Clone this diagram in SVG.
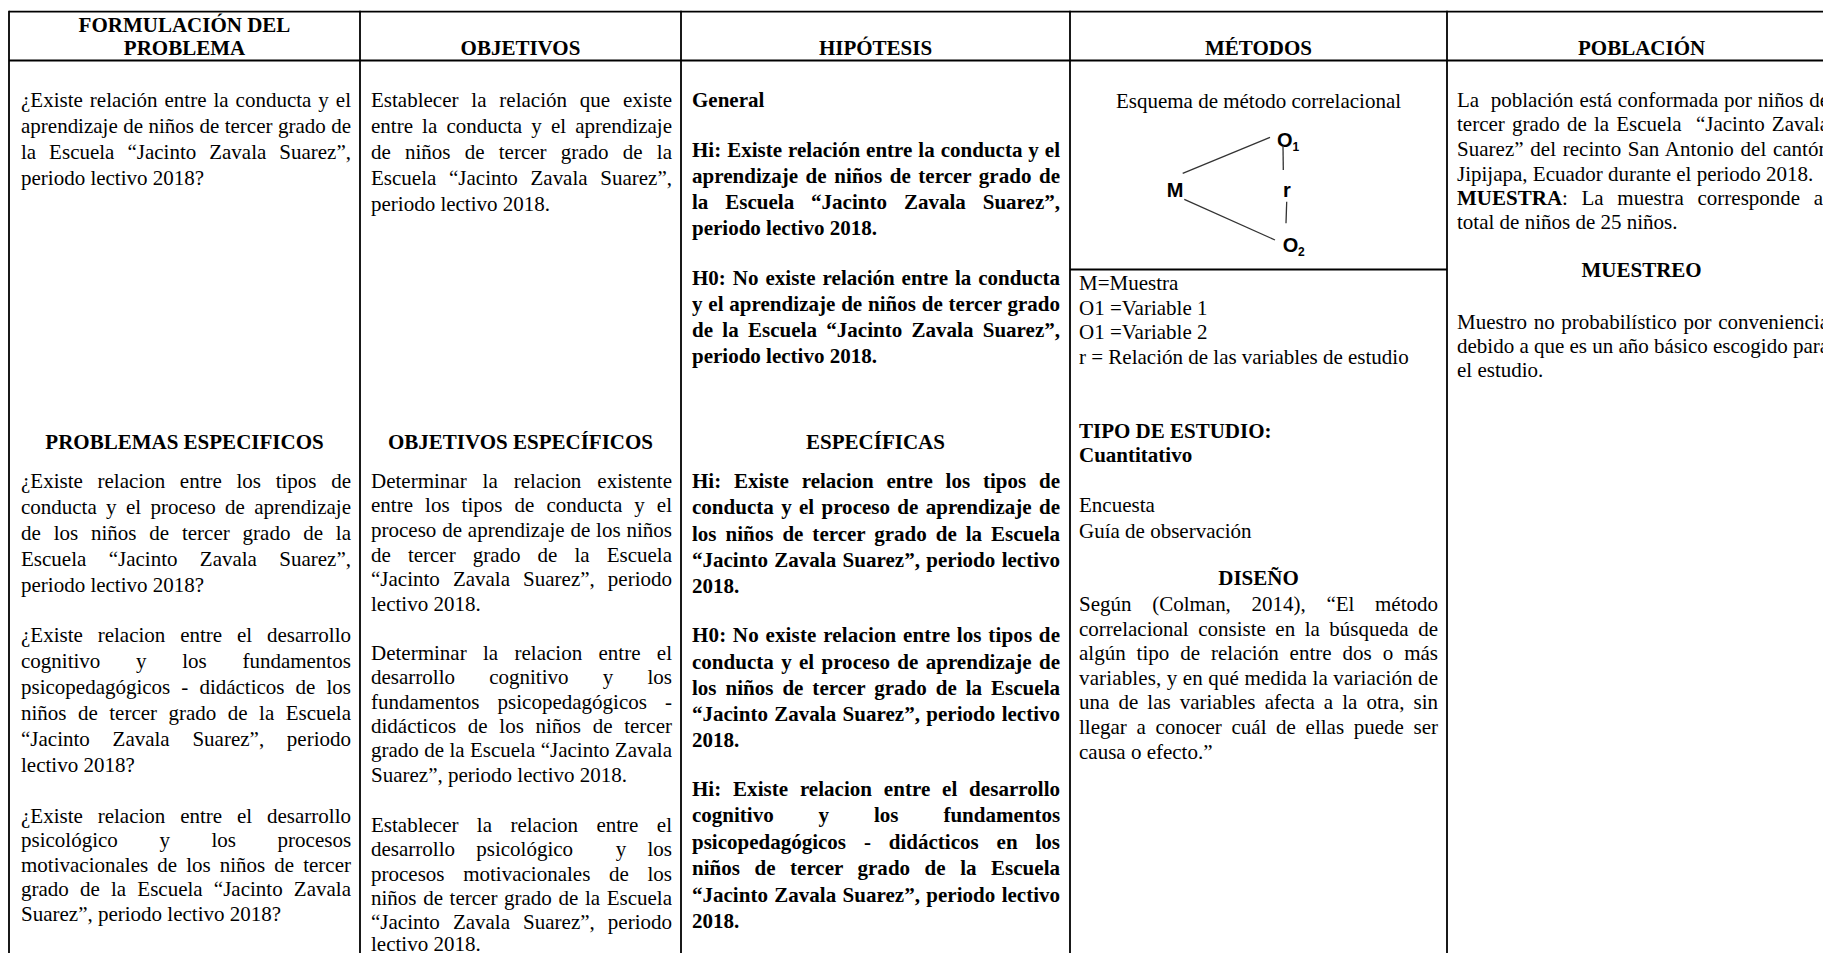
<svg xmlns="http://www.w3.org/2000/svg" width="1823" height="953" viewBox="0 0 1823 953">
<style>
.t{font-family:"Liberation Serif","Times New Roman",serif;font-size:21px;fill:#000}
.b{font-weight:bold}
.c{text-anchor:middle}
.s{font-family:"Liberation Sans",Arial,sans-serif;font-weight:bold;font-size:20px;fill:#000}
.sub{font-family:"Liberation Sans",Arial,sans-serif;font-weight:bold;font-size:12px;fill:#000}
.grid line{stroke:#000;stroke-width:1.8}
.conn line{stroke:#333;stroke-width:1.3}
</style>
<rect width="1823" height="953" fill="#fff"/>
<g id="grid" class="grid">
<line x1="9" y1="11.6" x2="1823" y2="11.6"/>
<line x1="9" y1="60.5" x2="1823" y2="60.5"/>
<line x1="9" y1="10.7" x2="9" y2="953"/>
<line x1="360" y1="10.7" x2="360" y2="953"/>
<line x1="681" y1="10.7" x2="681" y2="953"/>
<line x1="1070" y1="10.7" x2="1070" y2="953"/>
<line x1="1447" y1="10.7" x2="1447" y2="953"/>
<line x1="1070" y1="269.5" x2="1447" y2="269.5"/>
</g>
<g id="headers" class="t b c">
<text x="184.5" y="31.5">FORMULACIÓN DEL</text>
<text x="184.5" y="55.3">PROBLEMA</text>
<text x="520.5" y="55.3">OBJETIVOS</text>
<text x="875.5" y="55.3">HIPÓTESIS</text>
<text x="1258.5" y="55.3">MÉTODOS</text>
<text x="1641.6" y="55.3">POBLACIÓN</text>
</g>
<g id="problema" class="t">
<text x="21" y="106.5" word-spacing="1.7" textLength="330">¿Existe relación entre la conducta y el</text>
<text x="21" y="132.7" word-spacing="0.2" textLength="330">aprendizaje de niños de tercer grado de</text>
<text x="21" y="158.9" word-spacing="7.7" textLength="330">la Escuela “Jacinto Zavala Suarez”,</text>
<text x="21" y="185.1">periodo lectivo 2018?</text>
</g>
<g id="objetivos" class="t">
<text x="371" y="106.5" word-spacing="7.6" textLength="301">Establecer la relación que existe</text>
<text x="371" y="132.7" word-spacing="3.86" textLength="301">entre la conducta y el aprendizaje</text>
<text x="371" y="158.9" word-spacing="8.95" textLength="301">de niños de tercer grado de la</text>
<text x="371" y="185.1" word-spacing="7.43" textLength="301">Escuela “Jacinto Zavala Suarez”,</text>
<text x="371" y="211.3">periodo lectivo 2018.</text>
</g>
<g id="hipotesis" class="t b">
<text x="692" y="106.5">General</text>
<text x="692" y="157" word-spacing="0.66" textLength="368">Hi: Existe relación entre la conducta y el</text>
<text x="692" y="183" word-spacing="2.23" textLength="368">aprendizaje de niños de tercer grado de</text>
<text x="692" y="209" word-spacing="11.65" textLength="368">la Escuela “Jacinto Zavala Suarez”,</text>
<text x="692" y="235">periodo lectivo 2018.</text>
<text x="692" y="284.5" word-spacing="1.65" textLength="368">H0: No existe relación entre la conducta</text>
<text x="692" y="310.5" word-spacing="0.5" textLength="368">y el aprendizaje de niños de tercer grado</text>
<text x="692" y="336.5" word-spacing="4.06" textLength="368">de la Escuela “Jacinto Zavala Suarez”,</text>
<text x="692" y="362.5">periodo lectivo 2018.</text>
</g>
<g id="metodos" class="t">
<text class="c" x="1258.5" y="107.5">Esquema de método correlacional</text>
<g id="esquema">
<text class="s" x="1277" y="147">O</text><text class="sub" x="1292.5" y="150.5">1</text>
<text class="s" x="1166.7" y="196.7">M</text>
<text class="s" x="1283" y="196.7">r</text>
<text class="s" x="1282.7" y="251.7">O</text><text class="sub" x="1298" y="255.5">2</text>
</g>
<text x="1079" y="290">M=Muestra</text>
<text x="1079" y="314.6">O1 =Variable 1</text>
<text x="1079" y="339.2">O1 =Variable 2</text>
<text x="1079" y="363.8">r = Relación de las variables de estudio</text>
<text class="b" x="1079" y="437.7">TIPO DE ESTUDIO:</text>
<text class="b" x="1079" y="462.1">Cuantitativo</text>
<text x="1079" y="512.1">Encuesta</text>
<text x="1079" y="537.7">Guía de observación</text>
<text class="b c" x="1258.5" y="585.4">DISEÑO</text>
<text x="1079" y="611" word-spacing="15.4" textLength="359">Según (Colman, 2014), “El método</text>
<text x="1079" y="635.6" word-spacing="4.26" textLength="359">correlacional consiste en la búsqueda de</text>
<text x="1079" y="660.2" word-spacing="5.7" textLength="359">algún tipo de relación entre dos o más</text>
<text x="1079" y="684.8" textLength="359">variables, y en qué medida la variación de</text>
<text x="1079" y="709.4" word-spacing="3.84" textLength="359">una de las variables afecta a la otra, sin</text>
<text x="1079" y="734" word-spacing="4.39" textLength="359">llegar a conocer cuál de ellas puede ser</text>
<text x="1079" y="758.6">causa o efecto.”</text>
</g>
<g id="poblacion" class="t">
<text x="1457" y="106.5" word-spacing="0.5" textLength="372">La&#160; población está conformada por niños de</text>
<text x="1457" y="131.2" word-spacing="1.91" textLength="372">tercer grado de la Escuela&#160; “Jacinto Zavala</text>
<text x="1457" y="155.9" word-spacing="1.35" textLength="372">Suarez” del recinto San Antonio del cantón</text>
<text x="1457" y="180.6">Jipijapa, Ecuador durante el periodo 2018.</text>
<text x="1457" y="205.3" word-spacing="8.4" textLength="372"><tspan class="b">MUESTRA</tspan>: La muestra corresponde al</text>
<text x="1457" y="228.5">total de niños de 25 niños.</text>
<text class="b c" x="1641.6" y="277">MUESTREO</text>
<text x="1457" y="328.5" word-spacing="1.43" textLength="372">Muestro no probabilístico por conveniencia</text>
<text x="1457" y="352.9">debido a que es un año básico escogido para</text>
<text x="1457" y="377.3">el estudio.</text>
</g>
<g id="problemas-especificos" class="t">
<text class="b c" x="184.5" y="449.3">PROBLEMAS ESPECIFICOS</text>
<text x="21" y="487.7" word-spacing="9.42" textLength="330">¿Existe relacion entre los tipos de</text>
<text x="21" y="513.7" word-spacing="4.08" textLength="330">conducta y el proceso de aprendizaje</text>
<text x="21" y="539.7" word-spacing="7.57" textLength="330">de los niños de tercer grado de la</text>
<text x="21" y="565.7" word-spacing="17.1" textLength="330">Escuela “Jacinto Zavala Suarez”,</text>
<text x="21" y="591.7">periodo lectivo 2018?</text>
<text x="21" y="642.3" word-spacing="9.6" textLength="330">¿Existe relacion entre el desarrollo</text>
<text y="668.3"><tspan x="21">cognitivo</tspan><tspan x="136">y</tspan><tspan x="182.2">los</tspan><tspan x="242.4">fundamentos</tspan></text>
<text x="21" y="694.3" word-spacing="5.8" textLength="330">psicopedagógicos - didácticos de los</text>
<text x="21" y="720.3" word-spacing="6.2" textLength="330">niños de tercer grado de la Escuela</text>
<text x="21" y="746.3" word-spacing="17.5" textLength="330">“Jacinto Zavala Suarez”, periodo</text>
<text x="21" y="772.3">lectivo 2018?</text>
<text x="21" y="822.5" word-spacing="9.6" textLength="330">¿Existe relacion entre el desarrollo</text>
<text y="847.1"><tspan x="21">psicológico</tspan><tspan x="159.4">y</tspan><tspan x="211.5">los</tspan><tspan x="277.6">procesos</tspan></text>
<text x="21" y="871.7" word-spacing="3.8" textLength="330">motivacionales de los niños de tercer</text>
<text x="21" y="896.3" word-spacing="5.94" textLength="330">grado de la Escuela “Jacinto Zavala</text>
<text x="21" y="920.9">Suarez”, periodo lectivo 2018?</text>
</g>
<g id="objetivos-especificos" class="t">
<text class="b c" x="520.5" y="449.3">OBJETIVOS ESPECÍFICOS</text>
<text x="371" y="487.7" word-spacing="10.7" textLength="301">Determinar la relacion existente</text>
<text x="371" y="512.3" word-spacing="6.8" textLength="301">entre los tipos de conducta y el</text>
<text x="371" y="536.9" word-spacing="0.6" textLength="301">proceso de aprendizaje de los niños</text>
<text x="371" y="561.5" word-spacing="11.8" textLength="301">de tercer grado de la Escuela</text>
<text x="371" y="586.1" word-spacing="7.8" textLength="301">“Jacinto Zavala Suarez”, periodo</text>
<text x="371" y="610.7">lectivo 2018.</text>
<text x="371" y="659.8" word-spacing="11.1" textLength="301">Determinar la relacion entre el</text>
<text y="684.2"><tspan x="371">desarrollo</tspan><tspan x="489.2">cognitivo</tspan><tspan x="602.7">y</tspan><tspan x="647.4">los</tspan></text>
<text y="708.6"><tspan x="371">fundamentos</tspan><tspan x="497.6">psicopedagógicos</tspan><tspan x="665">-</tspan></text>
<text x="371" y="733" word-spacing="6.42" textLength="301">didácticos de los niños de tercer</text>
<text x="371" y="757.4" word-spacing="0.14" textLength="301">grado de la Escuela “Jacinto Zavala</text>
<text x="371" y="781.8">Suarez”, periodo lectivo 2018.</text>
<text x="371" y="831.8" word-spacing="13.15" textLength="301">Establecer la relacion entre el</text>
<text y="856.2"><tspan x="371">desarrollo</tspan><tspan x="476.3">psicológico</tspan><tspan x="615.7">y</tspan><tspan x="647.5">los</tspan></text>
<text x="371" y="880.6" word-spacing="13.4" textLength="301">procesos motivacionales de los</text>
<text x="371" y="905" word-spacing="1.38" textLength="301">niños de tercer grado de la Escuela</text>
<text x="371" y="929.4" word-spacing="7.8" textLength="301">“Jacinto Zavala Suarez”, periodo</text>
<text x="371" y="951">lectivo 2018.</text>
</g>
<g id="hipotesis-especificas" class="t b">
<text class="c" x="875.5" y="449.3">ESPECÍFICAS</text>
<text x="692" y="487.7" word-spacing="7.48" textLength="368">Hi: Existe relacion entre los tipos de</text>
<text x="692" y="514.1" word-spacing="2.03" textLength="368">conducta y el proceso de aprendizaje de</text>
<text x="692" y="540.5" word-spacing="3.66" textLength="368">los niños de tercer grado de la Escuela</text>
<text x="692" y="566.9" word-spacing="1.15" textLength="368">“Jacinto Zavala Suarez”, periodo lectivo</text>
<text x="692" y="593.3">2018.</text>
<text x="692" y="642.3" word-spacing="1.09" textLength="368">H0: No existe relacion entre los tipos de</text>
<text x="692" y="668.5" word-spacing="2.03" textLength="368">conducta y el proceso de aprendizaje de</text>
<text x="692" y="694.7" word-spacing="3.66" textLength="368">los niños de tercer grado de la Escuela</text>
<text x="692" y="720.9" word-spacing="1.15" textLength="368">“Jacinto Zavala Suarez”, periodo lectivo</text>
<text x="692" y="747.1">2018.</text>
<text x="692" y="795.8" word-spacing="6.52" textLength="368">Hi: Existe relacion entre el desarrollo</text>
<text y="822.3"><tspan x="692">cognitivo</tspan><tspan x="818.6">y</tspan><tspan x="874">los</tspan><tspan x="943.4">fundamentos</tspan></text>
<text x="692" y="848.8" word-spacing="12.65" textLength="368">psicopedagógicos - didácticos en los</text>
<text x="692" y="875.3" word-spacing="9.23" textLength="368">niños de tercer grado de la Escuela</text>
<text x="692" y="901.8" word-spacing="1.15" textLength="368">“Jacinto Zavala Suarez”, periodo lectivo</text>
<text x="692" y="928.3">2018.</text>
</g>
<g id="connectors" class="conn">
<line x1="1182.7" y1="173.3" x2="1270" y2="137.3"/>
<line x1="1184.3" y1="199.3" x2="1275" y2="240"/>
<line x1="1283" y1="146" x2="1283.3" y2="170"/>
<line x1="1286.7" y1="201.7" x2="1286" y2="223.3"/>
</g>
</svg>
